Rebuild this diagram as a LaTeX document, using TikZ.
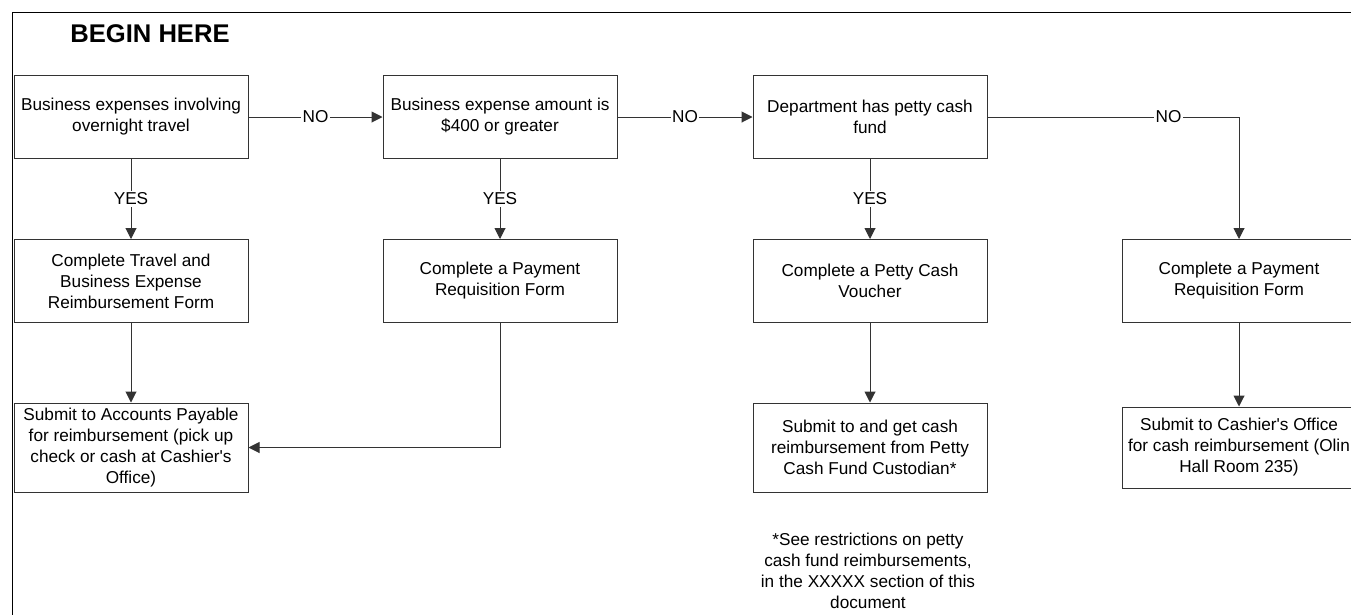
\documentclass[tikz,border=0pt]{standalone}
\usepackage{fontspec}
\setmainfont{Liberation Sans}
\usetikzlibrary{arrows.meta}

\begin{document}
\begin{tikzpicture}[x=1pt, y=-1pt,
    box/.style={draw=black!80, line width=1pt, minimum width=234pt, minimum height=83pt,
      inner sep=2pt, align=center, font=\fontsize{17.2}{21}\selectfont},
    flow/.style={draw=black!80, line width=1pt, -{Triangle[length=11pt,width=11pt]}},
    lbl/.style={fill=white, inner sep=1.5pt, font=\fontsize{17.2}{21}\selectfont}]
    \clip (0,0) rectangle (1351,614);
    \fill[white] (0,0) rectangle (1351,614);
    \draw[line width=1pt] (12,12) rectangle (1420,720);
    \node[font=\bfseries\fontsize{25.6}{30}\selectfont] (start) at (150,34) {BEGIN HERE};

    % top row: the three questions
    \node[box] (travel) at (131,117) {Business expenses involving\\overnight travel};
    \node[box] (amount) at (500,117) {Business expense amount is\\\$400 or greater};
    \node[box] (petty)  at (870,117) {Department has petty cash\\fund};

    % forms
    \node[box] (form)    at (131,281) {Complete Travel and\\Business Expense\\Reimbursement Form};
    \node[box] (payreq)  at (500,281) {Complete a Payment\\Requisition Form};
    \node[box] (voucher) at (870,281) {Complete a Petty Cash\\Voucher};
    \node[box] (payreqb) at (1239,281) {Complete a Payment\\Requisition Form};

    % where to submit
    \node[box, minimum height=89pt] (submitap) at (131,447.5)
      {Submit to Accounts Payable\\for reimbursement (pick up\\check or cash at Cashier\textquotesingle s\\Office)};
    \node[box, minimum height=89pt] (custodian) at (870,447.5)
      {Submit to and get cash\\reimbursement from Petty\\Cash Fund Custodian*};
    \node[box, minimum height=81pt] (cashier) at (1239,447.5)
      {Submit to Cashier\textquotesingle s Office\\for cash reimbursement (Olin\\Hall Room 235)};

    \node[align=center, font=\fontsize{17.2}{21}\selectfont] (note) at (868,571)
      {*See restrictions on petty\\cash fund reimbursements,\\in the XXXXX section of this\\document};

    \draw[flow] (travel) -- node[lbl]{NO} (amount);
    \draw[flow] (amount) -- node[lbl]{NO} (petty);
    \draw[flow] (petty) -| node[lbl, pos=0.36]{NO} (payreqb);
    \draw[flow] (travel) -- node[lbl]{YES} (form);
    \draw[flow] (amount) -- node[lbl]{YES} (payreq);
    \draw[flow] (petty) -- node[lbl]{YES} (voucher);
    \draw[flow] (form) -- (submitap);
    \draw[flow] (payreq) |- (submitap);
    \draw[flow] (voucher) -- (custodian);
    \draw[flow] (payreqb) -- (cashier);
\end{tikzpicture}
\end{document}
